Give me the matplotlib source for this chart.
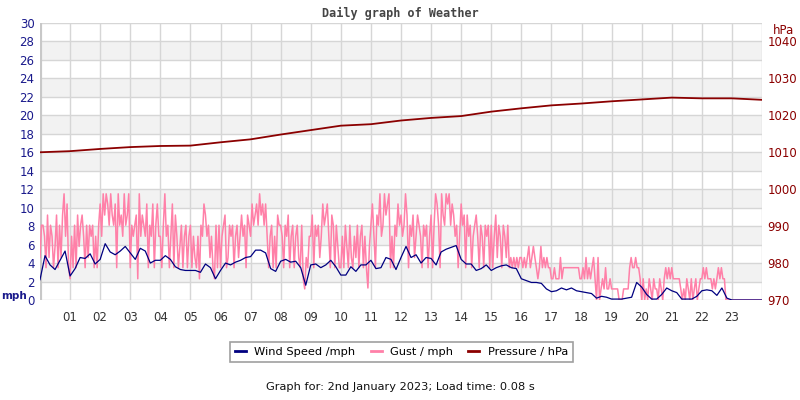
import matplotlib
matplotlib.use('Agg')
import matplotlib.pyplot as plt
import numpy as np
from matplotlib.lines import Line2D

# ---------------- data ----------------
hour_ticks = list(range(1, 24))
hour_labels = [f"{h:02d}" for h in hour_ticks]
mph_ticks = list(range(0, 31, 2))
hpa_ticks = list(range(970, 1041, 10))

# wind speed, one value every 10 minutes (00:00 .. 24:00)
wind_mph = [
    2.2, 4.8, 3.8, 3.3, 4.3, 5.3,
    2.6, 3.4, 4.6, 4.5, 5.0, 3.9,
    4.4, 6.1, 5.2, 4.9, 5.3, 5.8,
    5.1, 4.4, 5.6, 5.3, 4.0, 4.3,
    4.3, 4.8, 4.4, 3.6, 3.3, 3.2,
    3.2, 3.2, 3.0, 3.9, 3.5, 2.3,
    3.2, 4.0, 3.8, 4.1, 4.3, 4.6,
    4.7, 5.4, 5.4, 5.1, 3.4, 3.1,
    4.2, 4.4, 4.1, 4.2, 3.5, 1.6,
    3.8, 3.9, 3.5, 3.8, 4.3, 3.6,
    2.7, 2.7, 3.6, 3.1, 3.8, 3.8,
    4.3, 3.4, 3.5, 4.6, 4.4, 3.3,
    4.6, 5.8, 4.6, 4.9, 4.0, 4.6,
    4.5, 3.8, 5.2, 5.5, 5.7, 5.9,
    4.4, 3.9, 3.9, 3.2, 3.4, 3.8,
    3.2, 3.5, 3.7, 3.8, 3.5, 3.4,
    2.3, 2.1, 1.9, 1.9, 1.8, 1.2,
    0.9, 1.0, 1.3, 1.1, 1.3, 1.0,
    0.9, 0.8, 0.7, 0.2, 0.4, 0.3,
    0.1, 0.1, 0.1, 0.2, 0.3, 1.9,
    1.4, 0.6, 0.1, 0.1, 0.6, 1.3,
    1.0, 0.8, 0.1, 0.1, 0.1, 0.4,
    1.0, 1.1, 1.0, 0.5, 1.3, 0.2,
    0.0, 0.0, 0.0, 0.0, 0.0, 0.0,
    0.0,
]

# gust, one value every 3 minutes (00:00 .. 24:00)
gust_mph = [
    4.6, 8.1, 8.1, 6.9, 3.5, 9.2, 4.6, 8.1, 6.9, 3.5, 5.8, 9.2, 3.5, 8.1, 4.6, 9.2, 11.5, 6.9, 10.4, 3.5,
    2.3, 6.9, 3.5, 8.1, 3.5, 9.2, 5.8, 8.1, 9.2, 6.9, 3.5, 8.1, 4.6, 8.1, 6.9, 8.1, 3.5, 6.9, 3.5, 8.1,
    10.4, 6.9, 11.5, 9.2, 11.5, 10.4, 8.1, 11.5, 9.2, 8.1, 10.4, 3.5, 11.5, 8.1, 9.2, 6.9, 11.5, 8.1, 9.2, 11.5,
    3.5, 8.1, 6.9, 8.1, 9.2, 2.3, 11.5, 6.9, 9.2, 8.1, 6.9, 10.4, 3.5, 8.1, 6.9, 10.4, 3.5, 8.1, 10.4, 6.9,
    6.9, 3.5, 8.1, 11.5, 6.9, 8.1, 3.5, 6.9, 10.4, 3.5, 9.2, 6.9, 3.5, 5.8, 8.1, 3.5, 6.9, 8.1, 3.5, 6.9,
    8.1, 3.5, 6.9, 4.6, 3.5, 6.9, 2.3, 8.1, 6.9, 10.4, 9.2, 6.9, 8.1, 4.6, 6.9, 3.5, 2.3, 8.1, 3.5, 8.1,
    3.5, 6.9, 8.1, 9.2, 3.5, 4.6, 8.1, 6.9, 8.1, 3.5, 6.9, 8.1, 4.6, 6.9, 9.2, 6.9, 8.1, 3.5, 9.2, 8.1,
    6.9, 10.4, 8.1, 9.2, 10.4, 8.1, 11.5, 9.2, 10.4, 8.1, 10.4, 6.9, 3.5, 6.9, 8.1, 3.5, 6.9, 3.5, 9.2, 8.1,
    8.1, 6.9, 3.5, 8.1, 6.9, 9.2, 3.5, 6.9, 8.1, 3.5, 6.9, 8.1, 4.6, 3.5, 8.1, 2.3, 1.2, 4.6, 3.5, 6.9,
    6.9, 9.2, 3.5, 8.1, 6.9, 8.1, 4.6, 6.9, 10.4, 8.1, 9.2, 10.4, 6.9, 3.5, 9.2, 8.1, 3.5, 8.1, 5.8, 3.5,
    3.5, 6.9, 3.5, 8.1, 5.8, 3.5, 8.1, 4.6, 3.5, 6.9, 4.6, 8.1, 3.5, 6.9, 8.1, 3.5, 6.9, 3.5, 1.3, 5.8,
    8.1, 10.4, 6.9, 3.5, 9.2, 8.1, 11.5, 6.9, 8.1, 11.5, 9.2, 10.4, 11.5, 3.5, 6.9, 3.5, 8.1, 6.9, 10.4, 8.1,
    9.2, 6.9, 8.1, 11.5, 9.2, 3.5, 8.1, 6.9, 9.2, 4.6, 6.9, 9.2, 8.1, 6.9, 3.5, 8.1, 6.9, 8.1, 3.5, 6.9,
    9.2, 3.5, 8.1, 11.5, 10.4, 8.1, 3.5, 11.5, 9.2, 8.1, 11.5, 10.4, 11.5, 8.1, 10.4, 9.2, 6.9, 8.1, 3.5, 6.9,
    10.4, 8.1, 9.2, 3.5, 9.2, 6.9, 8.1, 3.5, 6.9, 8.1, 9.2, 6.9, 3.5, 8.1, 6.9, 3.5, 8.1, 6.9, 8.1, 3.5,
    8.1, 3.5, 6.9, 9.2, 4.6, 8.1, 6.9, 3.5, 8.1, 6.9, 4.6, 8.1, 3.5, 4.6, 3.5, 4.6, 3.5, 4.6, 3.5, 4.6,
    4.6, 3.5, 4.6, 3.5, 4.6, 5.8, 3.5, 4.6, 5.8, 4.6, 3.5, 2.3, 3.5, 5.8, 3.5, 4.6, 3.5, 4.6, 3.5, 3.5,
    2.3, 2.3, 3.5, 2.3, 2.3, 2.3, 4.6, 2.3, 3.5, 3.5, 3.5, 3.5, 3.5, 3.5, 3.5, 3.5, 3.5, 3.5, 3.5, 2.3,
    2.3, 3.5, 2.3, 4.6, 2.3, 3.5, 2.3, 3.5, 4.6, 2.3, 0.0, 4.6, 0.0, 1.2, 2.3, 1.2, 3.5, 1.2, 1.2, 2.3,
    1.2, 1.2, 1.2, 1.2, 1.2, 0.0, 0.0, 0.0, 1.2, 1.2, 1.2, 1.2, 3.5, 4.6, 3.5, 3.5, 4.6, 3.5, 3.5, 2.3,
    0.0, 2.3, 0.0, 1.2, 0.0, 2.3, 1.2, 0.0, 2.3, 1.2, 1.2, 0.0, 2.3, 1.2, 0.0, 2.3, 3.5, 2.3, 3.5, 2.3,
    3.5, 2.3, 2.3, 2.3, 2.3, 2.3, 1.2, 0.0, 1.2, 0.0, 2.3, 1.2, 0.0, 2.3, 0.0, 1.2, 2.3, 0.0, 1.2, 2.3,
    2.3, 3.5, 2.3, 3.5, 2.3, 2.3, 2.3, 1.2, 2.3, 1.2, 2.3, 3.5, 2.3, 3.5, 2.3, 2.3, 0.0, 0.0, 0.0, 0.0,
    0.0, 0.0, 0.0, 0.0, 0.0, 0.0, 0.0, 0.0, 0.0, 0.0, 0.0, 0.0, 0.0, 0.0, 0.0, 0.0, 0.0, 0.0, 0.0, 0.0,
    0.0,
]

# pressure, hourly (00:00 .. 24:00)
pressure_hpa = [
    1010.0, 1010.3, 1010.9, 1011.4, 1011.7, 1011.8, 1012.7, 1013.5,
    1014.8, 1016.0, 1017.2, 1017.6, 1018.6, 1019.3, 1019.8, 1021.0,
    1021.9, 1022.7, 1023.2, 1023.8, 1024.3, 1024.8, 1024.6, 1024.6,
    1024.2,
]

wind_t = np.arange(len(wind_mph)) / 6.0
gust_t = np.arange(len(gust_mph)) / 20.0
pres_t = np.arange(len(pressure_hpa))

# ---------------- style ----------------
C_WIND = '#000080'
C_GUST = '#ff80a8'
C_PRES = '#8b0000'
C_LEFT = '#1a1a8c'
C_GRID = '#d6d6d6'
C_BAND = '#f2f2f2'

fig = plt.figure(figsize=(8, 4), dpi=100)
ax = fig.add_axes([40 / 800, 1 - 300 / 400, 722 / 800, 277 / 400])
ax.set_xlim(0, 24)
ax.set_ylim(0, 30)

for y in range(2, 30, 4):
    ax.axhspan(y, y + 2, color=C_BAND, lw=0, zorder=0)
for y in mph_ticks:
    ax.axhline(y, color=C_GRID, lw=1, zorder=1)
for h in hour_ticks:
    ax.axvline(h, color=C_GRID, lw=1, zorder=1)
ax.axvline(24, color=C_GRID, lw=1, zorder=1)
ax.axvline(0, color='#c8c8c8', lw=3, zorder=1)

ax.plot(gust_t, gust_mph, color=C_GUST, lw=1.1, zorder=3)
ax.plot(wind_t, wind_mph, color=C_WIND, lw=0.9, zorder=4)

for s in ax.spines.values():
    s.set_visible(False)
ax.set_yticks(mph_ticks)
ax.set_yticklabels([str(v) for v in mph_ticks])
ax.set_xticks(hour_ticks)
ax.set_xticklabels(hour_labels)
ax.tick_params(axis='y', length=0, pad=4, labelsize=8.5, labelcolor=C_LEFT)
ax.tick_params(axis='x', length=0, pad=8, labelsize=8.5, labelcolor='#333333')

ax2 = ax.twinx()
ax2.set_ylim(970, 1045)
ax2.set_yticks(hpa_ticks)
ax2.set_yticklabels([str(v) for v in hpa_ticks])
ax2.tick_params(axis='y', length=0, pad=4, labelsize=8.5, labelcolor=C_PRES)
for s in ax2.spines.values():
    s.set_visible(False)
ax2.plot(pres_t, pressure_hpa, color=C_PRES, lw=1.3, zorder=5)

fig.text(400 / 800, 1 - 13 / 400, 'Daily graph of Weather', ha='center', va='center',
         family='DejaVu Sans Mono', weight='bold', fontsize=8.5, color='#444444')
fig.text(1 / 800, 1 - 296 / 400, 'mph', ha='left', va='center',
         fontsize=7.5, weight='bold', color=C_LEFT)
fig.text(783 / 800, 1 - 30 / 400, 'hPa', ha='center', va='center',
         fontsize=8.5, color=C_PRES)

handles = [Line2D([], [], color=C_WIND, lw=2),
           Line2D([], [], color=C_GUST, lw=2),
           Line2D([], [], color=C_PRES, lw=2)]
labels = ['Wind Speed /mph', 'Gust / mph', 'Pressure / hPa']
leg = fig.legend(handles, labels, loc='center', bbox_to_anchor=(401.5 / 800, 1 - 352 / 400),
                 ncol=3, fontsize=8.2, frameon=True, fancybox=False, handlelength=0.95,
                 handletextpad=0.75, columnspacing=1.35, borderpad=0.45, borderaxespad=0)
leg.get_frame().set_edgecolor('#888888')
leg.get_frame().set_linewidth(1.2)

fig.text(400 / 800, 1 - 387 / 400, 'Graph for: 2nd January 2023; Load time: 0.08 s',
         ha='center', va='center', fontsize=8.2, color='#111111')

fig.savefig('out.png', dpi=100)
